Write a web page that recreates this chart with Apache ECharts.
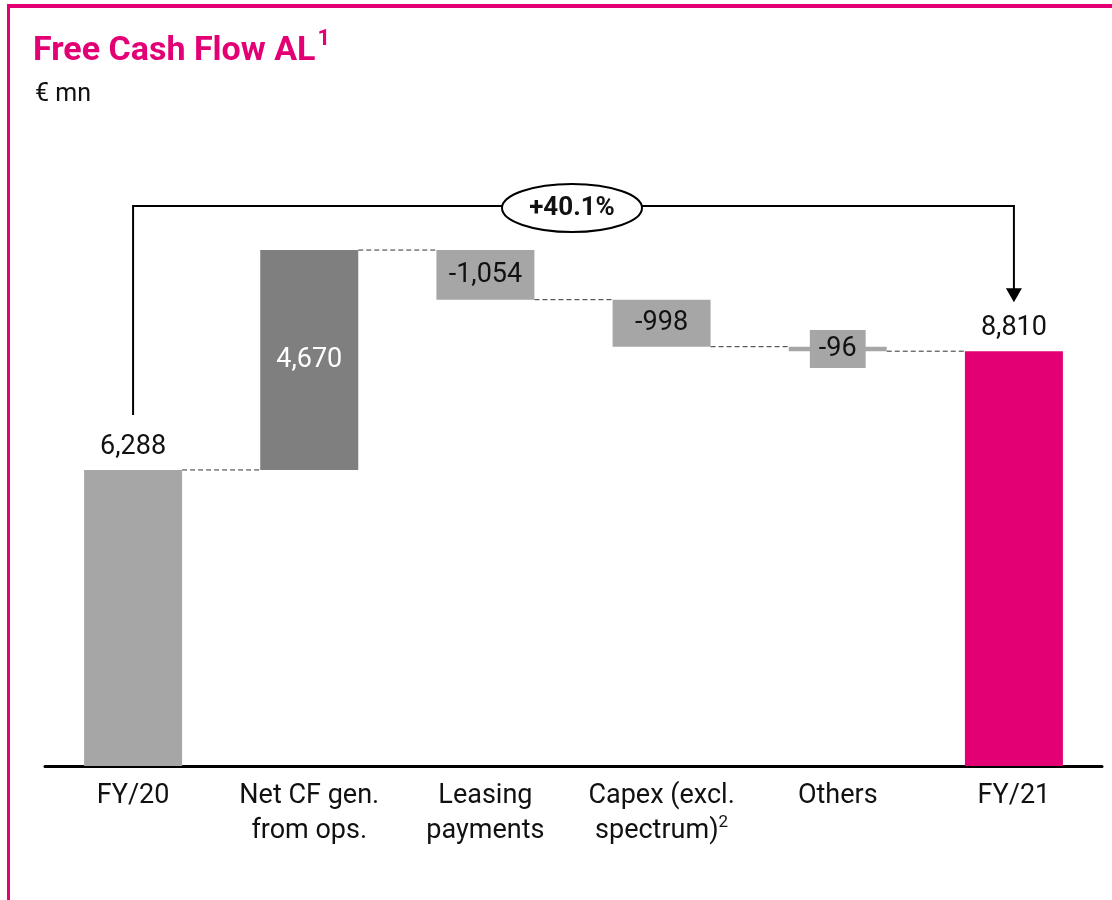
<!DOCTYPE html>
<html>
<head>
<meta charset="utf-8">
<script src="https://cdn.jsdelivr.net/npm/echarts@6/dist/echarts.min.js"></script>
<style>
  html, body { margin: 0; padding: 0; background: #fff; }
  #chart { width: 1112px; height: 900px; }
</style>
</head>
<body>
<div id="chart"></div>
<script>
(function () {
    'use strict';

    var categories = ['FY/20', 'Net CF gen.\nfrom ops.', 'Leasing\npayments', 'Capex (excl.\nspectrum){sup|2}', 'Others', 'FY/21'];
    var values = [6288, 4670, -1054, -998, -96, 8810];
    var valueLabels = ['6,288', '4,670', '-1,054', '-998', '-96', '8,810'];
    var growthLabel = '+40.1%';

    var MAGENTA = '#e20074';
    var GREY = '#a6a6a6';
    var DARK = '#7f7f7f';
    var FONT = 'Roboto, "Open Sans", sans-serif';

    // build waterfall: invisible base + visible step
    var base = [];
    var steps = [];
    var levels = [];
    var running = 0;
    for (var i = 0; i < values.length; i++) {
        var isTotal = (i === 0 || i === values.length - 1);
        if (isTotal) {
            base.push(0);
            steps.push(values[i]);
            running = values[i];
        } else {
            var next = running + values[i];
            base.push(Math.min(running, next));
            steps.push(Math.abs(values[i]));
            running = next;
        }
        levels.push(running);
    }

    var stepData = [];
    for (var k = 0; k < steps.length; k++) {
        var color = GREY;
        var label = { show: true, position: 'inside', color: '#111', fontSize: 27, fontFamily: FONT, formatter: valueLabels[k] };
        if (k === 0) {
            label.position = 'top';
            label.distance = 9;
        } else if (k === 1) {
            color = DARK;
            label.color = '#fff';
        } else if (k === values.length - 1) {
            color = MAGENTA;
            label.position = 'top';
            label.distance = 9;
        } else if (k === 4) {
            label.backgroundColor = GREY;
            label.padding = [6, 9, 5, 9];
        }
        stepData.push({ value: steps[k], itemStyle: { color: color }, label: label });
    }

    var connectorData = [];
    for (var c = 0; c < levels.length - 1; c++) {
        connectorData.push([c, levels[c]]);
    }

    var myChart = echarts.init(document.getElementById('chart'));

    myChart.setOption({
        animation: false,
        backgroundColor: '#fff',
        graphic: [
            { type: 'rect', shape: { x: 7, y: 4, width: 1105, height: 4 }, style: { fill: MAGENTA }, silent: true },
            { type: 'rect', shape: { x: 7, y: 4, width: 3, height: 896 }, style: { fill: MAGENTA }, silent: true },
            {
                type: 'text', left: 33, top: 28,
                style: {
                    text: '{t|Free Cash Flow AL}{s|1}',
                    rich: {
                        t: { fontSize: 34, fontWeight: 'bold', fill: MAGENTA, fontFamily: FONT, lineHeight: 40, verticalAlign: 'bottom' },
                        s: { fontSize: 22, fontWeight: 'bold', fill: MAGENTA, fontFamily: FONT, lineHeight: 40, verticalAlign: 'top', padding: [0, 0, 2, 2] }
                    }
                }
            },
            {
                type: 'text', left: 35, top: 82,
                style: { text: '€ mn', fontSize: 25, fill: '#111', fontFamily: FONT }
            }
        ],
        grid: { left: 45, right: 10, top: 201, bottom: 134 },
        xAxis: {
            type: 'category',
            data: categories,
            axisLine: { lineStyle: { color: '#000', width: 3 } },
            axisTick: { show: false },
            axisLabel: {
                color: '#111', fontSize: 27, fontFamily: FONT, lineHeight: 35, margin: 13,
                interval: 0,
                rich: { sup: { fontSize: 17, verticalAlign: 'top', lineHeight: 35, padding: [0, 0, 8, 0] } }
            }
        },
        yAxis: {
            type: 'value', min: 0, max: 12000, show: false,
            splitLine: { show: false }
        },
        series: [
            {
                type: 'bar', stack: 'wf', barWidth: 98, silent: true,
                itemStyle: { color: 'transparent' },
                data: base
            },
            {
                type: 'bar', stack: 'wf', barWidth: 98,
                data: stepData
            },
            {
                type: 'custom',
                clip: false,
                z: 1,
                renderItem: function (params, api) {
                    var idx = api.value(0);
                    var p1 = api.coord([idx, api.value(1)]);
                    var p2 = api.coord([idx + 1, api.value(1)]);
                    var half = 49;
                    return {
                        type: 'line',
                        shape: { x1: p1[0] + half, y1: p1[1], x2: p2[0] - half, y2: p2[1] },
                        style: { stroke: '#333', lineWidth: 1, lineDash: [5, 3] }
                    };
                },
                data: connectorData
            },
            {
                type: 'custom',
                clip: false,
                z: 5,
                renderItem: function (params, api) {
                    var last = values.length - 1;
                    var a = api.coord([0, values[0]]);
                    var b = api.coord([last, values[last]]);
                    var yTop = params.coordSys.y + 5;
                    var yLeft = a[1] - 55;
                    var yTip = b[1] - 49;
                    var midX = 572;
                    return {
                        type: 'group',
                        children: [
                            {
                                type: 'polyline',
                                shape: { points: [[a[0], yLeft], [a[0], yTop], [b[0], yTop], [b[0], yTip - 12]] },
                                style: { stroke: '#000', lineWidth: 2, fill: null }
                            },
                            {
                                type: 'polygon',
                                shape: { points: [[b[0] - 8, yTip - 14], [b[0] + 8, yTip - 14], [b[0], yTip]] },
                                style: { fill: '#000' }
                            },
                            {
                                type: 'ellipse',
                                shape: { cx: midX, cy: yTop + 2, rx: 70, ry: 24 },
                                style: { fill: '#fff', stroke: '#000', lineWidth: 2 }
                            },
                            {
                                type: 'text',
                                style: {
                                    text: growthLabel, x: midX, y: yTop + 2,
                                    align: 'center', verticalAlign: 'middle',
                                    fontSize: 26, fontWeight: 'bold', fontFamily: FONT, fill: '#111'
                                }
                            }
                        ]
                    };
                },
                data: [[0, 0]]
            }
        ]
    });
}());
</script>
</body>
</html>
